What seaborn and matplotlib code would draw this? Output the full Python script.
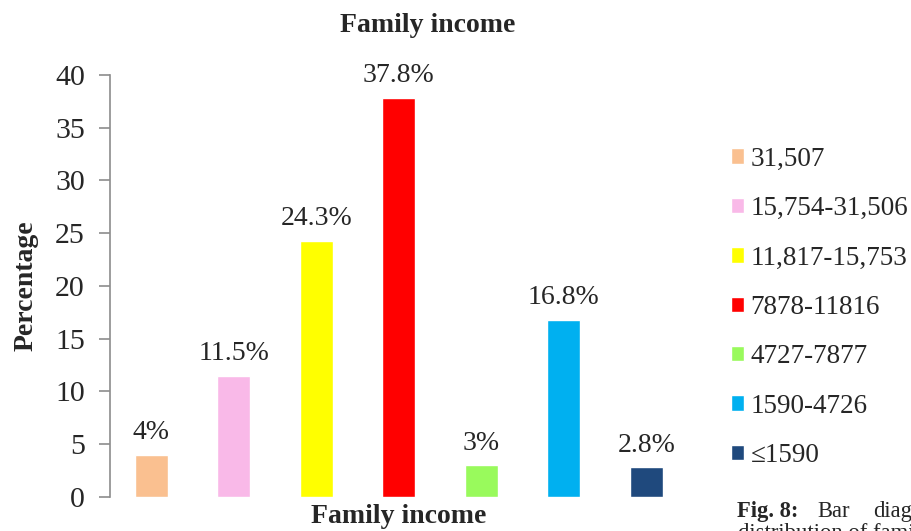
import matplotlib
matplotlib.use("Agg")
import matplotlib.pyplot as plt
import seaborn as sns
import pandas as pd

# Family income brackets and the share of respondents in each
income_groups = ["31,507", "15,754-31,506", "11,817-15,753", "7878-11816",
                 "4727-7877", "1590-4726", "\u22641590"]
percentages = [4.0, 11.5, 24.3, 37.8, 3.0, 16.8, 2.8]
bar_colors = ["#FAC090", "#F9B9E8", "#FFFF00", "#FF0000",
              "#99FA5C", "#00B0F0", "#1F497D"]
y_ticks = [0, 5, 10, 15, 20, 25, 30, 35, 40]

sns.set_theme(style="white")
plt.rcParams["font.family"] = ["Liberation Serif", "DejaVu Serif"]

df = pd.DataFrame({"group": income_groups, "pct": percentages})

fig = plt.figure(figsize=(9.11, 5.31), dpi=100)
ax = fig.add_axes([0.1207, 0.064, 0.6343, 0.795])

sns.barplot(data=df, x="group", y="pct", hue="group", order=income_groups,
            hue_order=income_groups, palette=bar_colors, width=0.4,
            saturation=1, legend=False, ax=ax)

ax.set_xlim(-0.5, len(income_groups) - 0.5)
ax.set_ylim(0, 40)
ax.set_yticks(y_ticks)
ax.set_xticks([])
ax.tick_params(axis="y", which="major", direction="out", length=8, width=1.2,
               color="#8C8C8C", pad=10, labelsize=21.5, left=True)
for s in ("top", "right", "bottom"):
    ax.spines[s].set_visible(False)
ax.spines["left"].set_color("#8C8C8C")
ax.spines["left"].set_linewidth(1.2)

# Value labels above each bar
for container in ax.containers:
    ax.bar_label(container, labels=[f"{v:g}%" for v in container.datavalues],
                 padding=7, fontsize=20)

ax.set_xlabel("Family income", fontsize=20, fontweight="bold", labelpad=5)
ax.set_ylabel("Percentage", fontsize=20, fontweight="bold", labelpad=12)
fig.text(0.469, 0.952, "Family income", ha="center", va="center",
         fontsize=20, fontweight="bold")

handles = [p for c in ax.containers for p in c.patches]
leg = fig.legend(handles, income_groups, loc="upper left",
                 bbox_to_anchor=(0.790, 0.744), frameon=False, fontsize=19.5,
                 handlelength=0.5, handleheight=0.5, handletextpad=0.24,
                 labelspacing=0.9, borderaxespad=0)

# Caption beneath the legend, justified across the line
cap_y = 0.0264
fig.text(0.809, cap_y, "Fig. 8:", ha="left", va="baseline", fontsize=16.3,
         fontweight="bold")
fig.text(0.897, cap_y, "Bar", ha="left", va="baseline", fontsize=16.3)
fig.text(0.958, cap_y, "diagram", ha="left", va="baseline", fontsize=16.3)
fig.text(0.810, -0.016, "distribution of family income", ha="left",
         va="baseline", fontsize=16.3)

fig.savefig("out.png", dpi=100)
